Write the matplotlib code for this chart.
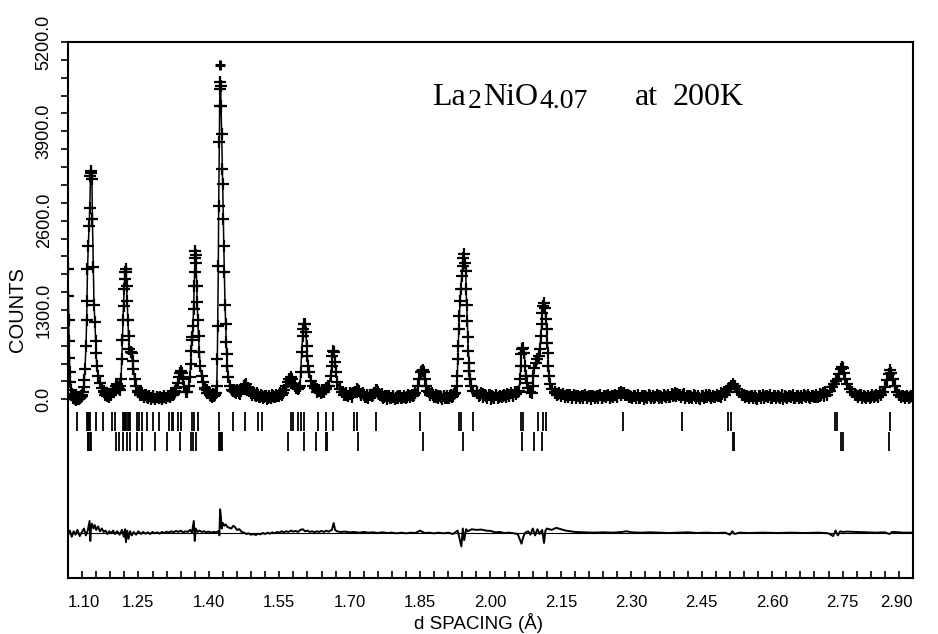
import numpy as np
import matplotlib
matplotlib.use('Agg')
import matplotlib.pyplot as plt
from matplotlib.ticker import FixedLocator, FormatStrFormatter

# observed profile, low d region (d in A, counts)
d_low = [1.1000, 1.1008, 1.1015, 1.1022, 1.1030, 1.1040, 1.1052, 1.1066, 1.1082, 1.1100,
         1.1130, 1.1165, 1.1200, 1.1235, 1.1270, 1.1300, 1.1322, 1.1335,
         1.1345, 1.1362, 1.1383, 1.1398, 1.1405, 1.1415, 1.1432, 1.1450, 1.1465, 1.1478,
         1.1490, 1.1500, 1.1510, 1.1520, 1.1538, 1.1554, 1.1573, 1.1590, 1.1598, 1.1612,
         1.1645, 1.1680, 1.1720, 1.1760, 1.1800, 1.1840, 1.1880, 1.1920, 1.1960, 1.2000,
         1.2035, 1.2060, 1.2090, 1.2115,
         1.2130, 1.2145, 1.2160, 1.2172, 1.2183, 1.2195, 1.2208, 1.2220, 1.2230, 1.2240,
         1.2250, 1.2262, 1.2275, 1.2290, 1.2310, 1.2335, 1.2358, 1.2375, 1.2395, 1.2420,
         1.2450, 1.2490, 1.2530, 1.2570, 1.2610, 1.2650, 1.2690, 1.2730, 1.2770, 1.2810,
         1.2850, 1.2890, 1.2930, 1.2970, 1.3010, 1.3050, 1.3090, 1.3130, 1.3170, 1.3210,
         1.3250, 1.3280,
         1.3310, 1.3335, 1.3360, 1.3385, 1.3405, 1.3425, 1.3450, 1.3480, 1.3510, 1.3540,
         1.3570, 1.3595, 1.3612, 1.3625, 1.3638, 1.3650, 1.3662, 1.3675, 1.3688, 1.3698,
         1.3706, 1.3713, 1.3722, 1.3730, 1.3742, 1.3752, 1.3765, 1.3780, 1.3798, 1.3815,
         1.3848, 1.3885, 1.3920, 1.3955, 1.3990, 1.4030, 1.4070, 1.4110, 1.4145,
         1.4168, 1.4181, 1.4189, 1.4202, 1.4210, 1.4223, 1.4231, 1.4238, 1.4245, 1.4252,
         1.4259, 1.4274, 1.4288, 1.4295, 1.4309, 1.4317, 1.4330, 1.4345, 1.4359, 1.4373,
         1.4380, 1.4394, 1.4416, 1.4451, 1.4490, 1.4522]
counts_low = [1900, 1500, 1150, 850, 600, 400, 250, 140, 80, 45,
              20, 5, 25, 0, 30, 45, 110, 180,
              280, 440, 780, 1160, 1430, 1890, 2230, 2520, 2790, 3250,
              3330, 3300, 3200, 2620, 1920, 1380, 1120, 850, 680, 490,
              340, 240, 170, 110, 80, 50, 70, 60, 100, 150,
              220, 180, 150, 200,
              300, 580, 870, 1160, 1360, 1600, 1750, 1860, 1890, 1850,
              1650, 1430, 1160, 920, 730, 690, 680, 560, 440, 290,
              190, 120, 90, 70, 50, 65, 30, 45, 15, 35,
              10, 30, 20, 40, 15, 35, 25, 50, 40, 70,
              80, 110,
              170, 240, 320, 390, 415, 380, 290, 180, 110, 100,
              200, 330, 520, 700, 860, 900, 1060, 1320, 1650, 1860,
              2050, 2160, 2100, 1990, 1650, 1410, 1160, 920, 690, 480,
              340, 250, 170, 130, 90, 70, 40, 55, 90,
              194, 580, 1070, 1940, 2810, 3740, 4270, 4510, 4620, 4560,
              4270, 3860, 3350, 3130, 2620, 2230, 1850, 1380, 1090, 830,
              655, 485, 320, 194, 140, 120]

# observed profile, middle region
d_mid = [1.4560, 1.4600, 1.4640, 1.4680, 1.4720, 1.4755, 1.4780, 1.4810, 1.4850, 1.4890,
         1.4930, 1.4970, 1.5010, 1.5050, 1.5090, 1.5130, 1.5170, 1.5210, 1.5250, 1.5290,
         1.5330, 1.5370, 1.5410, 1.5450, 1.5490, 1.5530, 1.5570, 1.5610, 1.5645, 1.5680,
         1.5710, 1.5740, 1.5770, 1.5800, 1.5830, 1.5860, 1.5890, 1.5915, 1.5942, 1.5957,
         1.5978, 1.6000, 1.6013, 1.6034, 1.6049, 1.6064, 1.6085, 1.6098, 1.6120, 1.6141,
         1.6170, 1.6226, 1.6298, 1.6350, 1.6400, 1.6450, 1.6500, 1.6550, 1.6596, 1.6617,
         1.6631, 1.6652, 1.6667, 1.6688, 1.6709, 1.6737, 1.6795, 1.6866, 1.6930, 1.7000,
         1.7060, 1.7120, 1.7185, 1.7250, 1.7310, 1.7370, 1.7430, 1.7490, 1.7540, 1.7577,
         1.7620, 1.7680, 1.7740, 1.7800, 1.7860, 1.7920, 1.7980, 1.8040, 1.8100, 1.8160,
         1.8220, 1.8280, 1.8340, 1.8400, 1.8463, 1.8484, 1.8514, 1.8535, 1.8556, 1.8584,
         1.8605, 1.8627, 1.8654, 1.8710, 1.8770, 1.8830, 1.8890, 1.8950, 1.9010, 1.9070,
         1.9130, 1.9180, 1.9230, 1.9280, 1.9294, 1.9302, 1.9315, 1.9323, 1.9337, 1.9351,
         1.9366, 1.9387, 1.9408, 1.9422, 1.9436, 1.9458, 1.9472, 1.9479, 1.9493, 1.9507,
         1.9515, 1.9528, 1.9543, 1.9550, 1.9564, 1.9585, 1.9634, 1.9705, 1.9770, 1.9840,
         1.9910, 1.9980, 2.0050, 2.0120, 2.0190, 2.0260, 2.0330, 2.0400, 2.0470, 2.0540,
         2.0580, 2.0608, 2.0629, 2.0644, 2.0657, 2.0679, 2.0700, 2.0721, 2.0736, 2.0751,
         2.0772, 2.0806, 2.0842, 2.0878, 2.0900, 2.0913, 2.0934, 2.0964, 2.0998, 2.1034,
         2.1055, 2.1070, 2.1091, 2.1104, 2.1126, 2.1141, 2.1162, 2.1177, 2.1198, 2.1211,
         2.1226, 2.1232, 2.1247, 2.1268, 2.1304, 2.1375, 2.1440]
counts_mid = [100, 130, 90, 120, 150, 190, 210, 170, 120, 100,
              70, 85, 50, 70, 40, 55, 30, 45, 25, 40,
              20, 45, 35, 55, 45, 75, 90, 130, 190, 250,
              300, 320, 290, 230, 190, 160, 150, 170, 194, 393,
              684, 921, 1019, 1091, 1100, 975, 776, 630, 485, 393,
              266, 194, 145, 120, 110, 130, 150, 200, 340, 485,
              630, 703, 684, 538, 393, 247, 145, 100, 70, 90,
              60, 100, 135, 80, 60, 40, 70, 60, 90, 130,
              80, 50, 30, 45, 20, 40, 25, 45, 20, 40,
              30, 50, 45, 90, 194, 291, 393, 410, 427, 393,
              291, 194, 121, 80, 60, 40, 55, 30, 45, 25,
              50, 40, 80, 194, 340, 582, 776, 1019, 1212, 1430,
              1600, 1795, 1940, 2060, 2110, 1990, 1870, 1600, 1380, 1140,
              900, 703, 534, 412, 291, 194, 121, 87, 60, 80,
              50, 65, 40, 60, 35, 55, 45, 65, 55, 80,
              100, 121, 291, 485, 655, 727, 752, 679, 485, 340,
              243, 170, 100, 90, 194, 340, 461, 534, 582, 630,
              727, 921, 1091, 1261, 1358, 1407, 1334, 1164, 1019, 825,
              679, 485, 340, 218, 145, 97, 80]

# observed profile, high d region
d_high = [2.1500, 2.1580, 2.1660, 2.1740, 2.1820, 2.1900, 2.1980, 2.2060, 2.2140, 2.2220,
          2.2300, 2.2380, 2.2460, 2.2540, 2.2620, 2.2700, 2.2780, 2.2850, 2.2920, 2.3000,
          2.3080, 2.3160, 2.3240, 2.3320, 2.3400, 2.3480, 2.3560, 2.3640, 2.3720, 2.3800,
          2.3880, 2.3960, 2.4040, 2.4120, 2.4200, 2.4280, 2.4360, 2.4440, 2.4520, 2.4600,
          2.4680, 2.4760, 2.4840, 2.4920, 2.4990, 2.5040, 2.5090, 2.5130, 2.5170, 2.5210,
          2.5250, 2.5300, 2.5350, 2.5420, 2.5500, 2.5580, 2.5660, 2.5740, 2.5820, 2.5900,
          2.5980, 2.6060, 2.6140, 2.6220, 2.6300, 2.6380, 2.6460, 2.6540, 2.6620, 2.6700,
          2.6780, 2.6860, 2.6940, 2.7020, 2.7100, 2.7170, 2.7230, 2.7280, 2.7320, 2.7360,
          2.7400, 2.7430, 2.7460, 2.7480, 2.7500, 2.7530, 2.7560, 2.7600, 2.7650, 2.7700,
          2.7760, 2.7830, 2.7900, 2.7970, 2.8040, 2.8110, 2.8180, 2.8250, 2.8310, 2.8360,
          2.8410, 2.8450, 2.8480, 2.8510, 2.8540, 2.8570, 2.8610, 2.8650, 2.8700, 2.8760,
          2.8820, 2.8880, 2.8940, 2.9000]
counts_high = [70, 50, 65, 40, 55, 30, 50, 25, 45, 30,
               50, 25, 45, 30, 50, 40, 60, 85, 60, 35,
               50, 25, 45, 30, 50, 25, 45, 30, 50, 35,
               55, 45, 60, 75, 55, 35, 50, 25, 45, 30,
               45, 30, 50, 40, 70, 110, 160, 200, 225, 195,
               150, 100, 70, 50, 35, 50, 25, 45, 30, 50,
               25, 45, 30, 50, 30, 45, 25, 45, 30, 50,
               30, 45, 35, 55, 45, 70, 120, 180, 230, 260,
               300, 370, 440, 470, 450, 380, 300, 220, 150, 100,
               70, 50, 65, 40, 55, 30, 50, 35, 60, 100,
               180, 280, 370, 420, 380, 290, 190, 110, 70, 50,
               35, 50, 30, 45]

# extra background readings between peaks: (first d, last d, counts at even steps)
bg_a = (1.108, 1.130, [60, 20, 45, 0, 30, -10, 25, 5, 40, 15, 50, 70])
bg_b = (1.176, 1.210, [120, 60, 95, 40, 80, 110, 150, 200, 170, 140])
bg_c = (1.250, 1.328, [110, 60, 95, 40, 70, 20, 55, 10, 45, 0, 35, 15, 40, 5, 45,
                       20, 55, 35, 80, 60, 120])
bg_d = (1.392, 1.414, [150, 90, 110, 50, 80, 60])
bg_e = (1.454, 1.556, [140, 90, 125, 80, 150, 190, 230, 170, 130, 90, 110, 60, 85, 40,
                       65, 20, 55, 10, 45, 20, 60, 30, 70, 45, 90, 70])
bg_g = (1.626, 1.654, [160, 100, 140, 90, 130, 110, 170, 190])
bg_h = (1.684, 1.840, [110, 60, 95, 45, 80, 40, 85, 100, 150, 120, 70, 95, 35, 70, 25,
                       60, 45, 90, 140, 110, 60, 75, 20, 55, 10, 50, 15, 45, 5, 40,
                       15, 50, 20, 55, 25, 60, 35, 70, 60, 95])
bg_i = (1.868, 1.924, [110, 60, 85, 30, 65, 15, 50, 5, 45, 20, 55, 25, 60, 50, 90])
bg_j = (1.972, 2.056, [100, 50, 85, 30, 70, 20, 60, 10, 55, 25, 65, 15, 55, 30, 70, 35,
                       75, 50, 85, 70, 110, 100])
bg_k = (2.138, 2.498, [110, 70, 95, 50, 80, 40, 70, 30, 65, 20, 60, 25, 55, 15, 50, 20,
                       60, 30, 55, 10, 45, 20, 55, 25, 60, 15, 50, 30, 65, 20, 55, 35,
                       70, 45, 90, 110, 85, 60, 70, 30, 55, 15, 50, 20, 60, 25, 55, 10,
                       45, 25, 60, 20, 55, 30, 65, 15, 50, 25, 60, 35, 70, 40, 75, 60,
                       95, 80, 70, 40, 60, 20, 55, 15, 50, 25, 60, 20, 55, 10, 45, 25,
                       60, 30, 65, 20, 55, 40, 70, 50, 85, 75, 100])
bg_l = (2.539, 2.713, [60, 30, 55, 15, 50, 20, 55, 10, 45, 25, 60, 20, 55, 30, 60, 15,
                       50, 20, 55, 25, 60, 10, 45, 20, 55, 30, 65, 15, 50, 25, 55, 20,
                       60, 30, 65, 20, 55, 35, 70, 40, 75, 60, 90, 100])
bg_m = (2.779, 2.829, [70, 35, 60, 20, 55, 15, 50, 25, 60, 30, 65, 55, 90])
bg_n = (2.871, 2.899, [70, 30, 55, 15, 50, 20, 55, 40])
bg_segments = [bg_a, bg_b, bg_c, bg_d, bg_e, bg_g, bg_h, bg_i, bg_j, bg_k, bg_l, bg_m, bg_n]

# stray observed point above the strongest peak
d_outlier = [1.4245]
counts_outlier = [4870]

# reflection markers, two phases
refl_row1 = [1.1199, 1.1398, 1.1420, 1.1440, 1.1469, 1.1597, 1.1753, 1.1930, 1.2001,
             1.2165, 1.2190, 1.2214, 1.2240, 1.2271, 1.2295, 1.2321, 1.2463, 1.2513,
             1.2570, 1.2677, 1.2818, 1.2946, 1.3159, 1.3209, 1.3244, 1.3350, 1.3401,
             1.3649, 1.3691, 1.3777, 1.4224, 1.4508, 1.4771, 1.5055, 1.5140,
             1.5751, 1.5800, 1.5906, 1.5957, 1.6028, 1.6332, 1.6490, 1.6652, 1.7093,
             1.7163, 1.7561, 1.8499, 1.9336, 1.9366, 1.9634, 2.0651, 2.0687, 2.1019,
             2.1126, 2.1183, 2.2817, 2.4074, 2.5067, 2.5118, 2.7340, 2.7389, 2.8512]
refl_row2 = [1.1420, 1.1433, 1.1460, 1.1484, 1.2023, 1.2093, 1.2179, 1.2250, 1.2321,
             1.2477, 1.2570, 1.2853, 1.3116, 1.3386, 1.3620, 1.3670, 1.3727,
             1.4224, 1.4238, 1.4260, 1.4281, 1.5693, 1.6028, 1.6283, 1.6490, 1.6524,
             1.7184, 1.8556, 1.9421, 2.0678, 2.0934, 2.1092, 2.5161, 2.5195, 2.7462,
             2.7517, 2.8497]

# difference curve (obs - calc)
d_diff = [1.1000, 1.1040, 1.1080, 1.1120, 1.1160, 1.1200, 1.1250, 1.1300, 1.1340, 1.1380,
          1.1420, 1.1460, 1.1475, 1.1490, 1.1510, 1.1540, 1.1570, 1.1600, 1.1640, 1.1680,
          1.1720, 1.1760, 1.1800, 1.1840, 1.1880, 1.1920, 1.1960, 1.2000, 1.2050, 1.2100,
          1.2150, 1.2190, 1.2215, 1.2235, 1.2260, 1.2290, 1.2320, 1.2360, 1.2400, 1.2450,
          1.2500, 1.2550, 1.2600, 1.2650, 1.2700, 1.2750, 1.2800, 1.2850, 1.2900, 1.2950,
          1.3000, 1.3050, 1.3100, 1.3150, 1.3200, 1.3250, 1.3300, 1.3350, 1.3400, 1.3450,
          1.3500, 1.3550, 1.3600, 1.3640, 1.3680, 1.3700, 1.3720, 1.3760, 1.3800, 1.3850,
          1.3900, 1.3950, 1.4000, 1.4050, 1.4100, 1.4150, 1.4200, 1.4225, 1.4240, 1.4255,
          1.4275, 1.4300, 1.4330, 1.4360, 1.4400, 1.4440, 1.4480, 1.4520, 1.4560, 1.4600,
          1.4650, 1.4700, 1.4750, 1.4800, 1.4850, 1.4900, 1.4950, 1.5000, 1.5050, 1.5100,
          1.5150, 1.5200, 1.5250, 1.5300, 1.5350, 1.5400, 1.5450, 1.5500, 1.5550, 1.5600,
          1.5650, 1.5700, 1.5750, 1.5800, 1.5850, 1.5900, 1.5950, 1.6000, 1.6050, 1.6100,
          1.6150, 1.6200, 1.6250, 1.6300, 1.6350, 1.6400, 1.6450, 1.6500, 1.6550, 1.6620,
          1.6660, 1.6690, 1.6730, 1.6800, 1.6900, 1.7000, 1.7100, 1.7200, 1.7300, 1.7400,
          1.7500, 1.7600, 1.7700, 1.7800, 1.7900, 1.8000, 1.8100, 1.8200, 1.8300, 1.8400,
          1.8500, 1.8550, 1.8600, 1.8700, 1.8800, 1.8900, 1.9000, 1.9100, 1.9200, 1.9300,
          1.9380, 1.9410, 1.9440, 1.9480, 1.9520, 1.9600, 1.9700, 1.9800, 1.9900, 2.0000,
          2.0100, 2.0200, 2.0300, 2.0400, 2.0500, 2.0580, 2.0620, 2.0660, 2.0700, 2.0740,
          2.0800, 2.0850, 2.0900, 2.0950, 2.1000, 2.1050, 2.1100, 2.1140, 2.1170, 2.1200,
          2.1300, 2.1400, 2.1500, 2.1600, 2.1700, 2.1800, 2.2000, 2.2200, 2.2400, 2.2600,
          2.2800, 2.2900, 2.3000, 2.3200, 2.3400, 2.3600, 2.3800, 2.4000, 2.4200, 2.4400,
          2.4600, 2.4800, 2.5000, 2.5100, 2.5150, 2.5200, 2.5300, 2.5500, 2.5800, 2.6100,
          2.6400, 2.6700, 2.7000, 2.7200, 2.7300, 2.7350, 2.7400, 2.7450, 2.7500, 2.7600,
          2.7800, 2.8000, 2.8200, 2.8400, 2.8500, 2.8550, 2.8700, 2.8800, 2.9000]
diff_counts = [-40, 30, -60, 20, -30, 40, -50, 10, 60, -40,
               30, 170, -120, 90, 130, 60, 110, 40, 90, 20,
               60, 10, 30, -20, 20, -10, 30, -20, 20, -30,
               40, -60, 50, -140, 30, -90, 20, -40, 10, -30,
               20, -20, 10, -15, 5, -20, 10, -10, 5, -15,
               10, -5, 15, 0, 20, 5, 25, 10, 30, 0,
               20, 10, 40, 0, 170, -120, 60, 10, 30, 10,
               20, 5, 15, 0, 10, 5, 20, -40, 340, 250,
               60, 140, 100, 120, 80, 70, 60, 100, 80, 40,
               50, 10, 0, -20, -10, -30, -20, -35, -15, -25,
               -5, -20, 0, -15, 5, -10, 10, 0, 20, 5,
               20, 10, 30, 15, 25, 10, 40, 50, 20, 30,
               10, 20, 5, 20, 10, 25, 10, 30, 15, 40,
               140, 40, 20, 10, 15, 5, 10, 0, 10, 0,
               5, -5, 5, -5, 0, -10, 0, -10, 0, -5,
               30, 10, -5, 0, -10, 0, -10, 0, -20, 30,
               -200, 60, -110, 50, 20, 50, 40, 45, 30, 25,
               5, 10, -5, 0, -10, -20, -90, -160, -60, 0,
               20, -30, 60, -40, 50, -20, 40, -150, 30, 60,
               40, 70, 50, 30, 20, 10, 5, 0, 5, 0,
               10, 20, 5, 0, 5, 0, -5, 0, 5, -5,
               0, -5, 0, -30, 20, -20, 0, -5, 0, -5,
               0, -5, 0, -10, -50, 30, -40, 20, 10, 15,
               10, 5, 0, 5, -20, 10, 5, 0, 0]
diff_offset = -1940

d_all = list(d_low) + list(d_mid) + list(d_high)
c_all = list(counts_low) + list(counts_mid) + list(counts_high)
for d0, d1, cs in bg_segments:
    d_all += list(np.linspace(d0, d1, len(cs)))
    c_all += cs
order = np.argsort(d_all)
d_obs = np.array(d_all)[order]
counts_obs = np.array(c_all)[order]

fig = plt.figure(figsize=(9.38, 6.34), dpi=100)
ax = fig.add_axes([68 / 938, 1 - 578 / 634, 845 / 938, 536 / 634])

# calculated profile line + observed crosses
ax.plot(d_obs, counts_obs, color='black', linewidth=1.1, zorder=2)
ax.plot(d_obs, counts_obs, linestyle='none', marker='+', markersize=8,
        markeredgewidth=1.6, color='black', zorder=3)
ax.plot(d_outlier, counts_outlier, linestyle='none', marker='+', markersize=7.5,
        markeredgewidth=2.2, color='black', zorder=3)

# reflection positions
ax.vlines(refl_row1, -466, -189, color='black', linewidth=1.3)
ax.vlines(refl_row2, -757, -480, color='black', linewidth=1.3)

# difference curve
ax.axhline(diff_offset, color='black', linewidth=0.8)
ax.plot(d_diff, np.array(diff_counts) + diff_offset, color='black', linewidth=1.4)

ax.set_xlim(1.10, 2.90)
ax.set_ylim(-2600, 5200)

ax.xaxis.set_major_locator(FixedLocator(np.arange(1.10, 2.91, 0.15)))
ax.xaxis.set_minor_locator(FixedLocator(np.arange(1.10, 2.91, 0.03)))
ax.xaxis.set_major_formatter(FormatStrFormatter('%.2f'))
ax.yaxis.set_major_locator(FixedLocator(np.arange(0, 5201, 1300)))
ax.yaxis.set_minor_locator(FixedLocator(np.arange(0, 5201, 260)))
ax.yaxis.set_major_formatter(FormatStrFormatter('%.1f'))

ax.tick_params(axis='x', which='both', direction='in', length=5, width=1.2,
               pad=12, labelsize=12)
ax.tick_params(axis='y', which='both', direction='out', length=5, width=1.2,
               pad=6, labelsize=13)
for lab in ax.get_yticklabels():
    lab.set_rotation(90)
    lab.set_va('center')
for lab in ax.get_xticklabels() + ax.get_yticklabels():
    lab.set_family('Liberation Sans')
xlabs = ax.get_xticklabels()
xlabs[0].set_ha('left')
xlabs[-1].set_ha('right')

for sp in ax.spines.values():
    sp.set_linewidth(1.5)

ax.set_xlabel('d SPACING (Å)', fontsize=13.5, family='Liberation Sans')
ax.xaxis.set_label_coords(0.486, -0.066)
ax.set_ylabel('COUNTS', fontsize=14.5, family='Liberation Sans', labelpad=6)

# sample label: pieces laid out left to right, subscripts smaller and lowered
W, H = 938, 634
renderer = fig.canvas.get_renderer()
formula_parts = [('La', 23, 105), ('2', 20, 108), ('NiO', 23, 105), ('4.07', 20, 108)]
x_px = 432
for txt, fs, py in formula_parts:
    t = fig.text(x_px / W, 1 - py / H, txt, fontsize=fs, family='Liberation Serif',
                 ha='left', va='baseline')
    x_px = t.get_window_extent(renderer).x1 + 1.5
fig.text(635 / W, 1 - 105 / H, 'at', fontsize=23, family='Liberation Serif',
         ha='left', va='baseline')
fig.text(673 / W, 1 - 105 / H, '200K', fontsize=23, family='Liberation Serif',
         ha='left', va='baseline')

fig.savefig('out.png', dpi=100)
